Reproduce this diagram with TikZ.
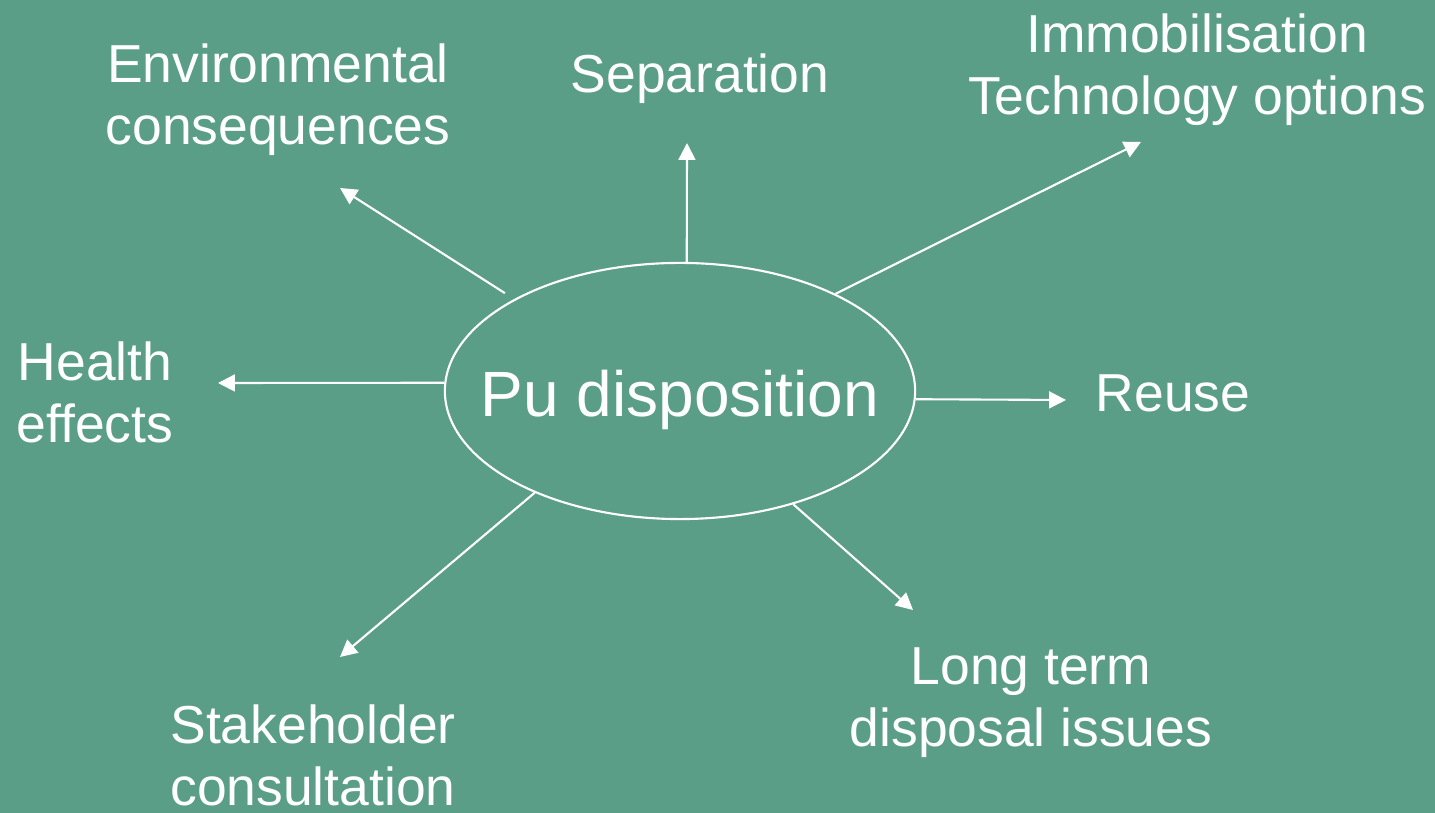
\documentclass[tikz,border=0pt]{standalone}
\usepackage{fontspec}
\setmainfont{Liberation Sans}
\usepackage{xcolor}
\usetikzlibrary{shapes,arrows.meta}
\definecolor{slidegreen}{RGB}{91,158,135}

\begin{document}
\begin{tikzpicture}[x=0.01cm, y=-0.01cm,
    hub/.style = {draw=white, line width=0.6pt, ellipse, inner sep=0pt,
                  minimum width=4.7cm, minimum height=2.56cm},
    topic/.style = {white, align=center, anchor=base, inner sep=0pt,
                    font=\fontsize{15.2}{17.9}\selectfont},
    link/.style = {white, line width=0.6pt, -{Triangle[length=4.8pt, width=4.8pt]}}]
\useasboundingbox (0,0) rectangle (1435,813);
\fill[slidegreen] (0,0) rectangle (1435,813);

% centre
\node[hub] (pu) at (680,391) {};
\node[white, anchor=base, inner sep=0pt, font=\fontsize{18.2}{22}\selectfont]
    (putext) at (680,417) {Pu disposition};

% topics (anchored on the baseline of the last line)
\node[topic] (env) at (278,145) {Environmental\\consequences};
\node[topic] (sep) at (700,93) {Separation};
\node[topic] (imm) at (1197,115) {Immobilisation\\Technology options};
\node[topic] (hea) at (95,443) {Health\\effects};
\node[topic] (reu) at (1173,412) {Reuse};
\node[topic] (sta) at (313,806) {Stakeholder\\consultation};
\node[topic] (lon) at (1031,747) {Long term\\disposal issues};

% arrow tips
\coordinate (envtip) at (340,188);
\coordinate (septip) at (687,143);
\coordinate (immtip) at (1141,142);
\coordinate (heatip) at (218,383);
\coordinate (reutip) at (1066,400);
\coordinate (statip) at (340,657);
\coordinate (lontip) at (913,610);

\draw[link, shorten <=0.11cm] (pu.151) -- (envtip);
\draw[link] (pu.87) -- (septip);
\draw[link] (pu.32) -- (immtip);
\draw[link] (pu.178) -- (heatip);
\draw[link] (pu.-2) -- (reutip);
\draw[link] (pu.215) -- (statip);
\draw[link] (pu.-45) -- (lontip);
\end{tikzpicture}
\end{document}
